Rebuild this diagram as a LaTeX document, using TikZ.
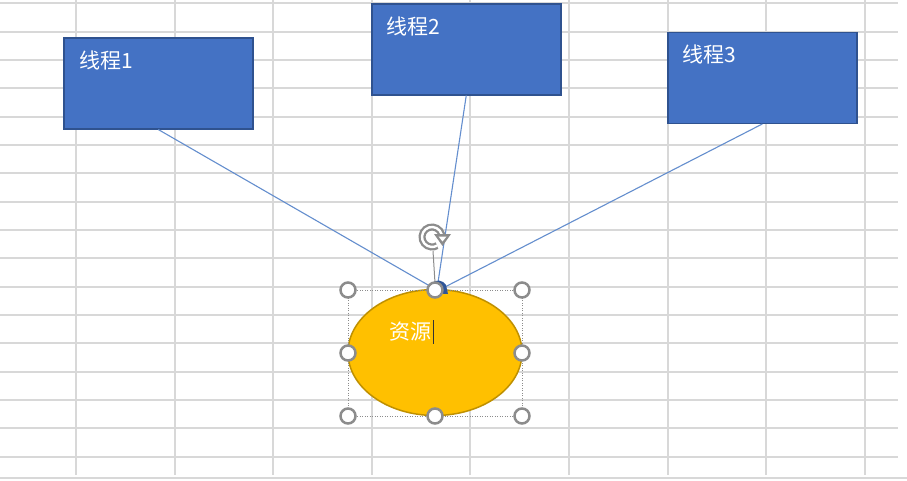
\documentclass[tikz,border=0pt]{standalone}
\usepackage{fontspec}
\newfontfamily\cjk{Noto Sans CJK SC}
\usetikzlibrary{shapes.geometric}
\definecolor{gridc}{RGB}{216,216,216}
\definecolor{boxfill}{RGB}{68,114,196}
\definecolor{boxline}{RGB}{47,82,143}
\definecolor{ellfill}{RGB}{255,192,0}
\definecolor{ellline}{RGB}{191,144,0}
\definecolor{connc}{RGB}{100,142,206}
\definecolor{handc}{RGB}{140,140,140}
\definecolor{blobc}{RGB}{47,85,151}
\tikzset{
  threadbox/.style={draw=boxline, fill=boxfill, line width=1.5pt, minimum width=189pt, minimum height=91pt, inner sep=0pt, anchor=north west},
  boxtext/.style={text=white, font=\cjk\fontsize{21}{24}\selectfont, inner sep=0pt, anchor=west},
  conn/.style={draw=connc, line width=1.1pt},
  handle/.style={circle, draw=handc, fill=white, line width=2.5pt, minimum size=15pt, inner sep=0pt},
  gridline/.style={draw=gridc, line width=1.5pt}
}
\begin{document}
\begin{tikzpicture}[x=1pt,y=-1pt]
\useasboundingbox (0,0) rectangle (907,480);
\fill[white] (0,0) rectangle (907,480);
% grid
\foreach \gx in {76,175,273,372,470,569,668,766,865}
  \draw[gridline] (\gx,0) -- (\gx,475);
\foreach \gy in {3,32,60,88,117,145,173,202,230,258,287,315,343,372,400,428,457}
  \draw[gridline] (0,\gy) -- (898,\gy);
\draw[gridline] (0,478) -- (907,478);
% boxes
\node[threadbox] (b1) at (63,37) {};
\node[threadbox] (b2) at (371,3) {};
\node[threadbox] (b3) at (667,31.5) {};
\node[boxtext] (t1) at (79,60) {线程1};
\node[boxtext] (t2) at (386,26) {线程2};
\node[boxtext] (t3) at (682,54) {线程3};
% ellipse
\node[ellipse, draw=ellline, fill=ellfill, line width=1.5pt, minimum width=174pt, minimum height=126pt, inner sep=0pt] (res) at (435,352.5) {};
\node[text=white, font=\cjk\fontsize{21}{24}\selectfont, inner sep=0pt, anchor=west] (rt) at (389,332) {资源};
\coordinate (cur1) at (433.5,320);
\coordinate (cur2) at (433.5,344);
\draw[black!80, line width=1.2pt] (cur1) -- (cur2);
% connectors
\coordinate (e1) at (435,289);
\coordinate (e2) at (437,289);
\coordinate (e3) at (441,289);
\draw[conn] (b1.south) -- (e1);
\draw[conn] (b2.south) -- (e2);
\draw[conn] (b3.south) -- (e3);
% selection frame
\draw[handc, line width=0.8pt, dash pattern=on 1pt off 1.5pt] (348,290) rectangle (522,416);
% rotation stem
\coordinate (rs1) at (433,251);
\coordinate (rs2) at (435,283);
\draw[handc, line width=1pt] (rs1) -- (rs2);
% blob at connection point
\fill[blobc] (430,293) -- (432,283) .. controls (436,279) and (443,280) .. (446,285) -- (448,294) -- cycle;
% handles
\foreach \hx/\hy/\hn in {348/290/h1,435/290/h2,522/290/h3,348/353/h4,522/353/h5,348/416/h6,435/416/h7,522/416/h8}
  \node[handle] (\hn) at (\hx,\hy) {};
% rotation handle
\coordinate (rc) at (432,237);
\draw[handc, line width=7pt] ([shift={(5:10)}]rc) arc[start angle=5, end angle=-300, radius=10];
\draw[white, line width=2.4pt] ([shift={(5:10)}]rc) arc[start angle=5, end angle=-300, radius=10];
\fill[handc] (434,234) -- (451,234) -- (442.5,246) -- cycle;
\fill[white] (438.5,236.5) -- (446.5,236.5) -- (442.5,241.5) -- cycle;
\end{tikzpicture}
\end{document}
